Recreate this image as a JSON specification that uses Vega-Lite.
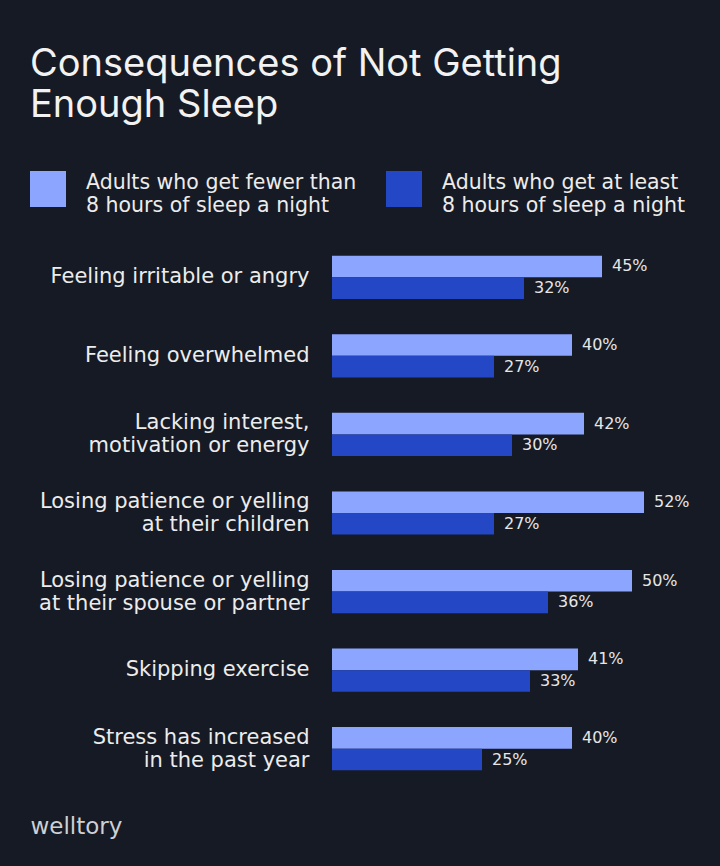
{
  "$schema": "https://vega.github.io/schema/vega-lite/v6.json",
  "autosize": "none",
  "width": 360,
  "height": 550,
  "padding": {"left": 332, "top": 238, "right": 28, "bottom": 78},
  "background": "#161a24",
  "title": {
    "text": ["Consequences of Not Getting", "Enough Sleep"],
    "anchor": "start",
    "frame": "group",
    "dx": -302,
    "fontSize": 38,
    "fontWeight": 400,
    "font": "Inter",
    "color": "#f2f2f2",
    "lineHeight": 41,
    "offset": 46
  },
  "data": {
    "values": [
      {"item": "Feeling irritable or angry", "group": "Adults who get fewer than 8 hours of sleep a night", "value": 0.45},
      {"item": "Feeling irritable or angry", "group": "Adults who get at least 8 hours of sleep a night", "value": 0.32},
      {"item": "Feeling overwhelmed", "group": "Adults who get fewer than 8 hours of sleep a night", "value": 0.40},
      {"item": "Feeling overwhelmed", "group": "Adults who get at least 8 hours of sleep a night", "value": 0.27},
      {"item": "Lacking interest, motivation or energy", "group": "Adults who get fewer than 8 hours of sleep a night", "value": 0.42},
      {"item": "Lacking interest, motivation or energy", "group": "Adults who get at least 8 hours of sleep a night", "value": 0.30},
      {"item": "Losing patience or yelling at their children", "group": "Adults who get fewer than 8 hours of sleep a night", "value": 0.52},
      {"item": "Losing patience or yelling at their children", "group": "Adults who get at least 8 hours of sleep a night", "value": 0.27},
      {"item": "Losing patience or yelling at their spouse or partner", "group": "Adults who get fewer than 8 hours of sleep a night", "value": 0.50},
      {"item": "Losing patience or yelling at their spouse or partner", "group": "Adults who get at least 8 hours of sleep a night", "value": 0.36},
      {"item": "Skipping exercise", "group": "Adults who get fewer than 8 hours of sleep a night", "value": 0.41},
      {"item": "Skipping exercise", "group": "Adults who get at least 8 hours of sleep a night", "value": 0.33},
      {"item": "Stress has increased in the past year", "group": "Adults who get fewer than 8 hours of sleep a night", "value": 0.40},
      {"item": "Stress has increased in the past year", "group": "Adults who get at least 8 hours of sleep a night", "value": 0.25}
    ]
  },
  "encoding": {
    "y": {
      "field": "item",
      "type": "nominal",
      "sort": null,
      "scale": {"paddingInner": 0.45, "paddingOuter": 0.225},
      "axis": {
        "title": null,
        "domain": false,
        "ticks": false,
        "labelPadding": 23,
        "labelFont": "DejaVu Sans",
        "labelFontSize": 21,
        "labelColor": "#ececec",
        "labelLineHeight": 23,
        "labelLimit": 400,
        "labelOffset": {"condition": {"test": "indexof(datum.value, 'interest') >= 0 || indexof(datum.value, 'Losing') >= 0 || indexof(datum.value, 'Stress') >= 0", "value": -11}, "value": 0},
        "labelExpr": "datum.value == 'Lacking interest, motivation or energy' ? ['Lacking interest,', 'motivation or energy'] : datum.value == 'Losing patience or yelling at their children' ? ['Losing patience or yelling', 'at their children'] : datum.value == 'Losing patience or yelling at their spouse or partner' ? ['Losing patience or yelling', 'at their spouse or partner'] : datum.value == 'Stress has increased in the past year' ? ['Stress has increased', 'in the past year'] : datum.value"
      }
    },
    "yOffset": {
      "field": "group",
      "type": "nominal",
      "sort": ["Adults who get fewer than 8 hours of sleep a night", "Adults who get at least 8 hours of sleep a night"],
      "scale": {"paddingInner": 0, "paddingOuter": 0}
    },
    "x": {
      "field": "value",
      "type": "quantitative",
      "scale": {"domain": [0, 0.6], "nice": false},
      "axis": {
        "domain": false,
        "ticks": false,
        "labels": false,
        "grid": false,
        "title": "welltory",
        "titleAnchor": "start",
        "titleAlign": "left",
        "titleBaseline": "alphabetic",
        "titleX": -302,
        "titleY": 45,
        "titleFont": "DejaVu Sans",
        "titleFontSize": 23,
        "titleFontWeight": 500,
        "titleColor": "#cfd0d4"
      }
    }
  },
  "layer": [
    {
      "mark": {"type": "bar", "cornerRadius": 0},
      "encoding": {
        "color": {
          "field": "group",
          "type": "nominal",
          "sort": ["Adults who get fewer than 8 hours of sleep a night", "Adults who get at least 8 hours of sleep a night"],
          "scale": {"range": ["#8ca5ff", "#2347c5"]},
          "legend": {
            "title": null,
            "orient": "none",
            "legendX": -302,
            "legendY": -67,
            "direction": "horizontal",
            "columns": 2,
            "columnPadding": 29,
            "symbolType": "square",
            "symbolSize": 1296,
            "symbolStrokeWidth": 0,
            "symbolOpacity": 1,
            "labelOffset": 20,
            "labelFont": "DejaVu Sans",
            "labelFontSize": 20.5,
            "labelColor": "#ececec",
            "labelLineHeight": 24,
            "labelBaseline": "alphabetic",
            "labelLimit": 400,
            "labelExpr": "[slice(datum.label, 0, indexof(datum.label, ' 8 hours')), slice(datum.label, indexof(datum.label, ' 8 hours') + 1)]"
          }
        }
      }
    },
    {
      "mark": {"type": "text", "align": "left", "baseline": "middle", "dx": 10, "font": "DejaVu Sans", "fontSize": 16, "color": "#e6e6e6"},
      "encoding": {
        "text": {"field": "value", "type": "quantitative", "format": ".0%"}
      }
    }
  ],
  "config": {"view": {"stroke": null}}
}
